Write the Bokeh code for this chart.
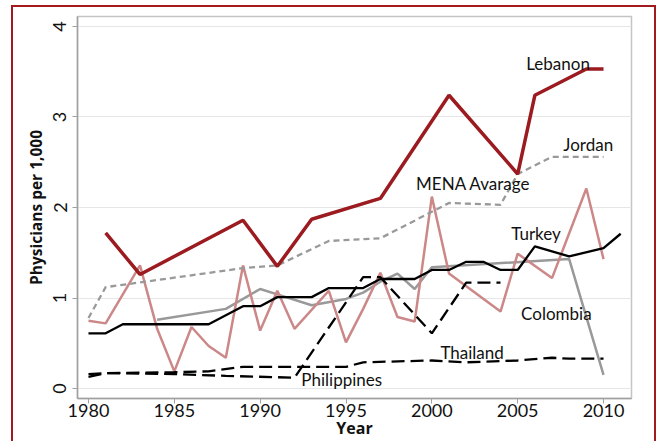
from bokeh.plotting import figure
from bokeh.models import FixedTicker, Range1d, ColumnDataSource
from bokeh.core.properties import value
from bokeh.embed import file_html
from bokeh.resources import INLINE

# ---- data ----
lebanon_years = [1981, 1983, 1989, 1991, 1993, 1997, 2001, 2005, 2006, 2009, 2010]
lebanon = [1.72, 1.26, 1.86, 1.35, 1.87, 2.10, 3.24, 2.37, 3.24, 3.53, 3.53]

jordan_years = [1980, 1981, 1989, 1991, 1994, 1997, 2001, 2004, 2005, 2007, 2010]
jordan = [0.78, 1.12, 1.33, 1.36, 1.63, 1.66, 2.05, 2.03, 2.37, 2.56, 2.56]

mena_years = [1980, 1981, 1983, 1984, 1985, 1986, 1987, 1988, 1989, 1990, 1991, 1992,
              1994, 1995, 1996, 1997, 1998, 1999, 2000, 2001, 2004, 2005, 2007, 2009, 2010]
mena = [0.75, 0.72, 1.36, 0.66, 0.19, 0.68, 0.47, 0.34, 1.36, 0.64, 1.08, 0.66,
        1.08, 0.51, 0.88, 1.28, 0.79, 0.74, 2.12, 1.27, 0.85, 1.49, 1.22, 2.21, 1.43]

colombia_years = [1984, 1988, 1990, 1991, 1993, 1995, 1996, 1997, 1998, 1999, 2000, 2008, 2010]
colombia = [0.76, 0.88, 1.10, 1.04, 0.92, 0.99, 1.06, 1.18, 1.27, 1.10, 1.34, 1.43, 0.15]

turkey_years = [1980, 1981, 1982, 1987, 1989, 1990, 1991, 1993, 1994, 1996, 1997, 1999,
                2000, 2001, 2002, 2003, 2004, 2005, 2006, 2008, 2010, 2011]
turkey = [0.61, 0.61, 0.71, 0.71, 0.91, 0.91, 1.01, 1.01, 1.11, 1.11, 1.21, 1.21,
          1.31, 1.31, 1.40, 1.40, 1.31, 1.31, 1.57, 1.46, 1.55, 1.71]

philippines_years = [1980, 1981, 1985, 1988, 1992, 1996, 1997, 2000, 2002, 2004]
philippines = [0.13, 0.17, 0.16, 0.14, 0.12, 1.23, 1.23, 0.61, 1.17, 1.17]

thailand_years = [1980, 1981, 1985, 1987, 1989, 1995, 1996, 2000, 2002, 2005, 2007, 2008, 2010]
thailand = [0.16, 0.17, 0.18, 0.19, 0.24, 0.24, 0.29, 0.31, 0.29, 0.31, 0.34, 0.33, 0.33]

x_ticks = [1980, 1985, 1990, 1995, 2000, 2005, 2010]
y_ticks = [0, 1, 2, 3, 4]

label_texts = ["Lebanon", "Jordan", "MENA Avarage", "Turkey", "Colombia", "Thailand", "Philippines"]
label_x = [2005.5, 2007.66, 1999.08, 2004.62, 2005.2, 2000.5, 1992.4]
label_y = [3.54, 2.64, 2.21, 1.655, 0.77, 0.34, 0.05]

FONT = "Lato"
RED = "#a3191e"

p = figure(width=657, height=441, output_backend="svg", toolbar_location=None,
           x_range=Range1d(1979.36, 2011.63), y_range=Range1d(-0.11, 4.11),
           min_border_left=77, min_border_right=26, min_border_top=16, min_border_bottom=43)

p.background_fill_color = "white"
p.border_fill_alpha = 0
p.outline_line_color = "#c4c4c4"
p.outline_line_width = 1.5

# outer red frame (drawn behind the transparent canvas border area)
grad = f"linear-gradient({RED},{RED})"
p.styles = {
    "background": (f"{grad} 11px 5px / 2px 440px no-repeat, "
                   f"{grad} 11px 5px / 645px 2px no-repeat, "
                   f"{grad} 654px 5px / 2px 440px no-repeat, white"),
}

p.xgrid.visible = False
p.ygrid.grid_line_color = "#e6e6e6"
p.ygrid.grid_line_width = 1

for ax in (p.xaxis[0], p.yaxis[0]):
    ax.axis_line_color = "#a0a0a0"
    ax.axis_line_width = 1.5
    ax.major_tick_line_color = "#a0a0a0"
    ax.major_tick_in = 0
    ax.major_tick_out = 5
    ax.minor_tick_line_color = None
    ax.major_label_text_font = FONT
    ax.major_label_text_font_size = "18px"
    ax.major_label_text_color = "#111111"
    ax.axis_label_text_font = "Open Sans"
    ax.axis_label_text_font_style = "bold"
    ax.axis_label_text_color = "#111111"

p.xaxis.ticker = FixedTicker(ticks=x_ticks)
p.yaxis.ticker = FixedTicker(ticks=y_ticks)
p.yaxis.major_label_orientation = "vertical"
p.xaxis.axis_label = "Year"
p.yaxis.axis_label = "Physicians per 1,000"
p.xaxis.axis_label_text_font_size = "16px"
p.yaxis.axis_label_text_font_size = "15.5px"
p.xaxis.major_label_standoff = 0
p.xaxis.axis_label_standoff = -3
p.yaxis.major_label_standoff = 6
p.yaxis.axis_label_standoff = 4

# series
p.line(colombia_years, colombia, color="#999999", line_width=2.5)
p.line(mena_years, mena, color="#cc8888", line_width=2.5)
p.line(jordan_years, jordan, color="#999999", line_width=2.3, line_dash="6 4")
p.line(thailand_years, thailand, color="black", line_width=2.3, line_dash="13 6")
p.line(philippines_years, philippines, color="black", line_width=2.3, line_dash="13 6")
p.line(turkey_years, turkey, color="black", line_width=2.3)
p.line(lebanon_years, lebanon, color="#9b1b20", line_width=3.5)

src = ColumnDataSource(dict(x=label_x, y=label_y, t=label_texts))
p.text(x="x", y="y", text="t", source=src, text_font=value(FONT), text_font_size="17px",
       text_color="#111111", text_align="left", text_baseline="alphabetic", y_offset=-5)

open("out.html", "w").write(file_html(p, INLINE))
